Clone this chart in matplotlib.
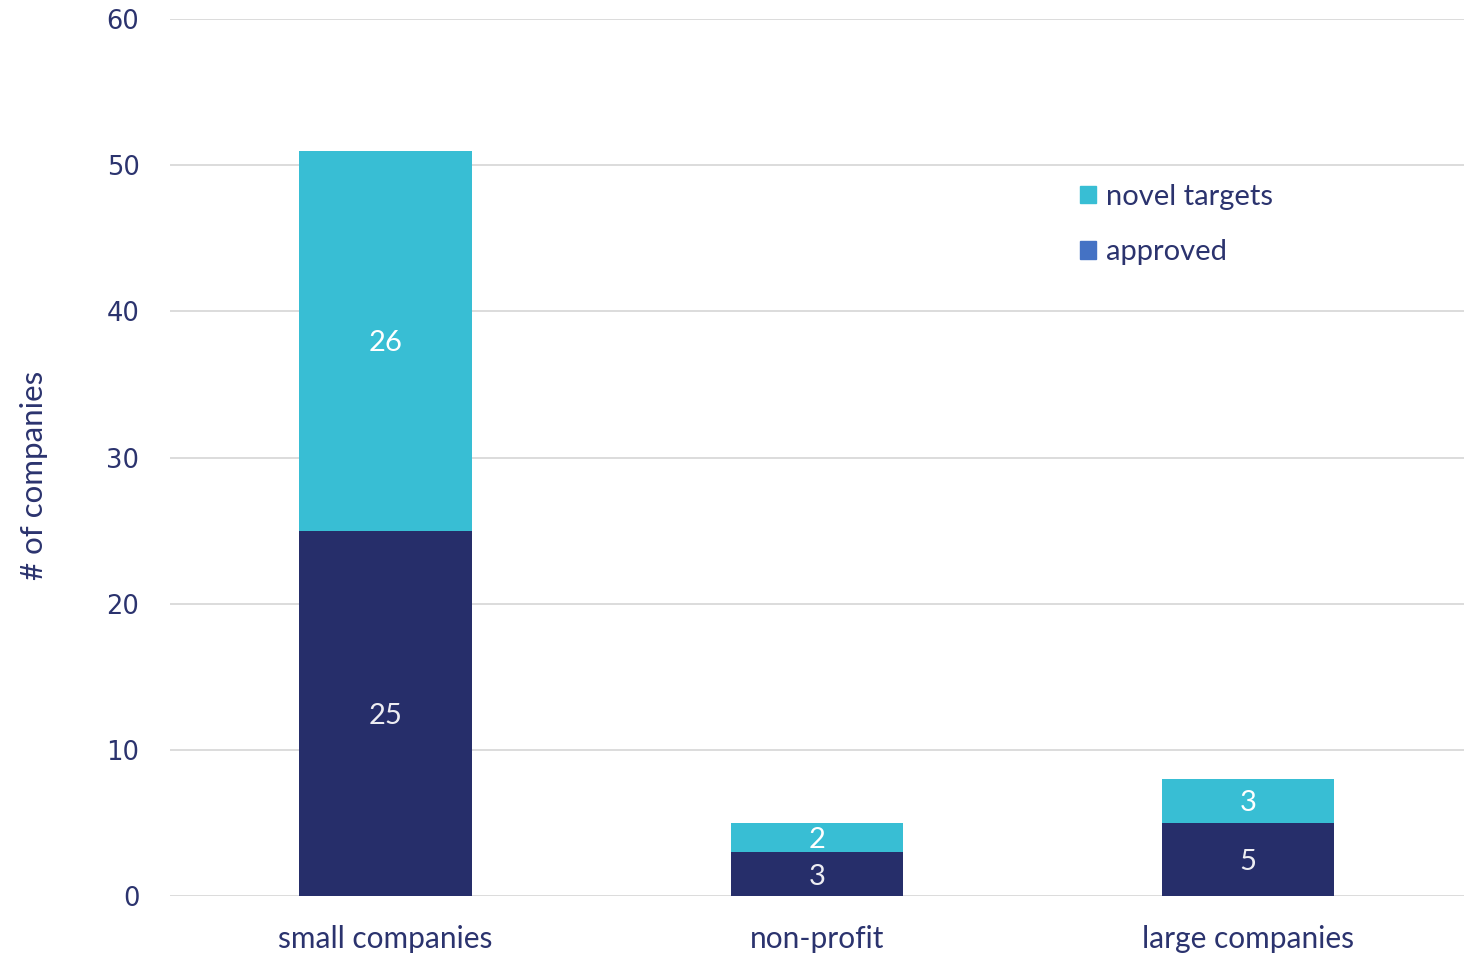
import matplotlib
matplotlib.use('Agg')
import matplotlib.pyplot as plt
from matplotlib.patches import Patch
import numpy as np

categories = ['small companies', 'non-profit', 'large companies']
approved = [25, 3, 5]
novel_targets = [26, 2, 3]
yticks = [0, 10, 20, 30, 40, 50, 60]

navy = '#262E6A'
teal = '#38BED4'
legend_blue = '#4472C4'
text_col = '#2B336E'

plt.rcParams['font.family'] = ['Lato', 'DejaVu Sans']

fig = plt.figure(figsize=(14.68, 9.56), dpi=100)
ax = fig.add_axes([0.1158, 0.0628, 0.8812, 0.9172])

x = np.arange(len(categories))
w = 0.40
ax.bar(x, approved, w, color=navy, zorder=3)
ax.bar(x, novel_targets, w, bottom=approved, color=teal, zorder=3)

# value labels inside the segments
for i in range(len(categories)):
    ax.text(x[i], approved[i] / 2, str(approved[i]), ha='center', va='center_baseline',
            color='#EDEDF2', fontsize=21, zorder=4)
    ax.text(x[i], approved[i] + novel_targets[i] / 2, str(novel_targets[i]),
            ha='center', va='center_baseline', color='white', fontsize=21, zorder=4)

ax.set_xlim(-0.5, 2.5)
ax.set_ylim(0, 60)
ax.set_yticks(yticks)
ax.set_yticklabels([str(t) for t in yticks], family=['DejaVu Sans'], fontsize=18.5, color=text_col)
ax.set_xticks(x)
ax.set_xticklabels(categories, fontsize=21.5, color=text_col)
ax.tick_params(axis='both', length=0)
ax.tick_params(axis='y', pad=22)
ax.tick_params(axis='x', pad=21)

ax.grid(axis='y', color='#D9D9D9', linewidth=1.3, zorder=0)
for s in ax.spines.values():
    s.set_visible(False)

ax.set_ylabel('# of companies', fontsize=22.5, color=text_col)
ax.yaxis.set_label_coords(-0.094, 0.48)

handles = [Patch(color=teal, label='novel targets'), Patch(color=legend_blue, label='approved')]
leg = ax.legend(handles=handles, loc='upper left', bbox_to_anchor=(0.683, 0.842), frameon=False,
                fontsize=21, handlelength=0.55, handleheight=0.55, handletextpad=0.35,
                labelspacing=1.0)
for t in leg.get_texts():
    t.set_color(text_col)

fig.savefig('out.png', dpi=100)
